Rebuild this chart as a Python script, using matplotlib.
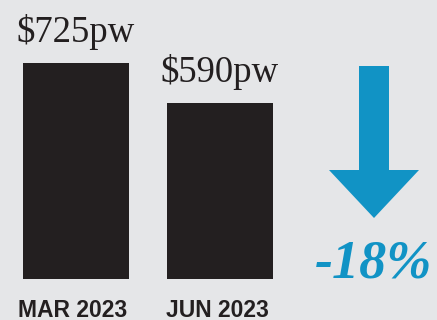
import matplotlib
matplotlib.use("Agg")
import matplotlib.pyplot as plt
from matplotlib.patches import Polygon

# data
periods = ["MAR 2023", "JUN 2023"]
rents = [725, 590]
value_labels = ["$725pw", "$590pw"]
change_label = "-18%"

bg = "#e5e6e8"
bar_col = "#231f20"
blue = "#1193c5"

W, H = 437, 320
fig = plt.figure(figsize=(W / 100, H / 100), dpi=100, facecolor=bg)

# bars axis: baseline at y=279px, 0.298 px per unit
ax = fig.add_axes([0, 41 / H, 1, 1 - 41 / H])
ax.set_facecolor(bg)
ax.set_ylim(0, 279 / (216 / 725))
ax.set_xlim(-76 / 144, (W - 76) / 144)
ax.axis("off")

x = list(range(len(rents)))
ax.bar(x, rents, width=106 / 144, color=bar_col)

for xi, v, lab in zip(x, rents, value_labels):
    ax.annotate(lab, (xi, v), xytext=(0, 15), textcoords="offset points",
                ha="center", va="baseline", fontsize=26.5,
                family="Liberation Serif", color=bar_col)

for xi, p in zip(x, periods):
    fig.text((73 + 144 * xi) / W, 3 / H, p, ha="center", va="baseline",
             fontsize=16.5, fontweight="bold", family="Liberation Sans",
             color=bar_col)

# down arrow
pts = [(359, 66), (389, 66), (389, 170), (419, 170), (374, 218),
       (329, 170), (359, 170)]
arrow = Polygon([(px / W, 1 - py / H) for px, py in pts], closed=True,
                transform=fig.transFigure, facecolor=blue, edgecolor="none")
fig.patches.append(arrow)

fig.text(374 / W, 1 - 277 / H, change_label, ha="center", va="baseline",
         fontsize=39, fontweight="bold", fontstyle="italic",
         family="Liberation Serif", color=blue)

fig.savefig("out.png", dpi=100, facecolor=bg)
plt.close(fig)
